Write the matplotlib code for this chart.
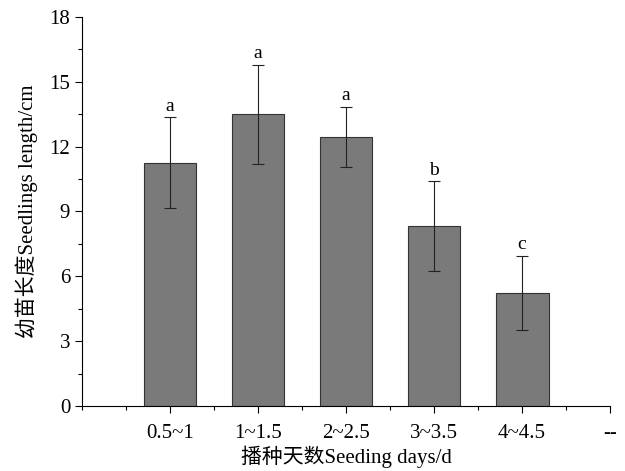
import matplotlib
matplotlib.use("Agg")
import matplotlib.pyplot as plt
from matplotlib.ticker import MultipleLocator

categories = ["0.5~1", "1~1.5", "2~2.5", "3~3.5", "4~4.5"]
means = [11.25, 13.5, 12.45, 8.33, 5.23]
errors = [2.1, 2.3, 1.4, 2.07, 1.71]
letters = ["a", "a", "a", "b", "c"]
tick_labels = categories + ["--"]

fam = ["Liberation Serif", "Noto Sans CJK SC"]
plt.rcParams["font.family"] = fam

fig = plt.figure(figsize=(6.25, 4.71), dpi=100)
ax = fig.add_axes([0.1312, 0.138, 0.845, 0.826])

pos = list(range(1, len(categories) + 1))
ax.bar(pos, means, width=0.6, color="#7a7a7a", edgecolor="#333333", linewidth=0.8,
       yerr=errors, capsize=4, error_kw=dict(ecolor="#222222", elinewidth=0.8, capthick=0.8))
for p, m, e, l in zip(pos, means, errors, letters):
    ax.text(p, m + e + 0.12, l, ha="center", va="bottom", fontsize=14)

ax.set_xlim(0, 6)
ax.set_ylim(0, 18)
ax.set_xticks(list(range(1, 7)))
ax.set_xticklabels(tick_labels, fontsize=15)
ax.xaxis.set_minor_locator(MultipleLocator(0.5))
ax.yaxis.set_major_locator(MultipleLocator(3))
ax.yaxis.set_minor_locator(MultipleLocator(1.5))
ax.tick_params(axis="both", which="major", direction="out", length=5, width=0.8, labelsize=15)
ax.tick_params(axis="both", which="minor", direction="out", length=3, width=0.8)
ax.tick_params(axis="x", pad=8)
for s in ["top", "right"]:
    ax.spines[s].set_visible(False)
for s in ["left", "bottom"]:
    ax.spines[s].set_linewidth(0.8)

ax.set_ylabel("幼苗长度Seedlings length/cm", fontsize=15, labelpad=8)
ax.set_xlabel("播种天数Seeding days/d", fontsize=15, labelpad=2)

fig.savefig("out.png", dpi=100)
